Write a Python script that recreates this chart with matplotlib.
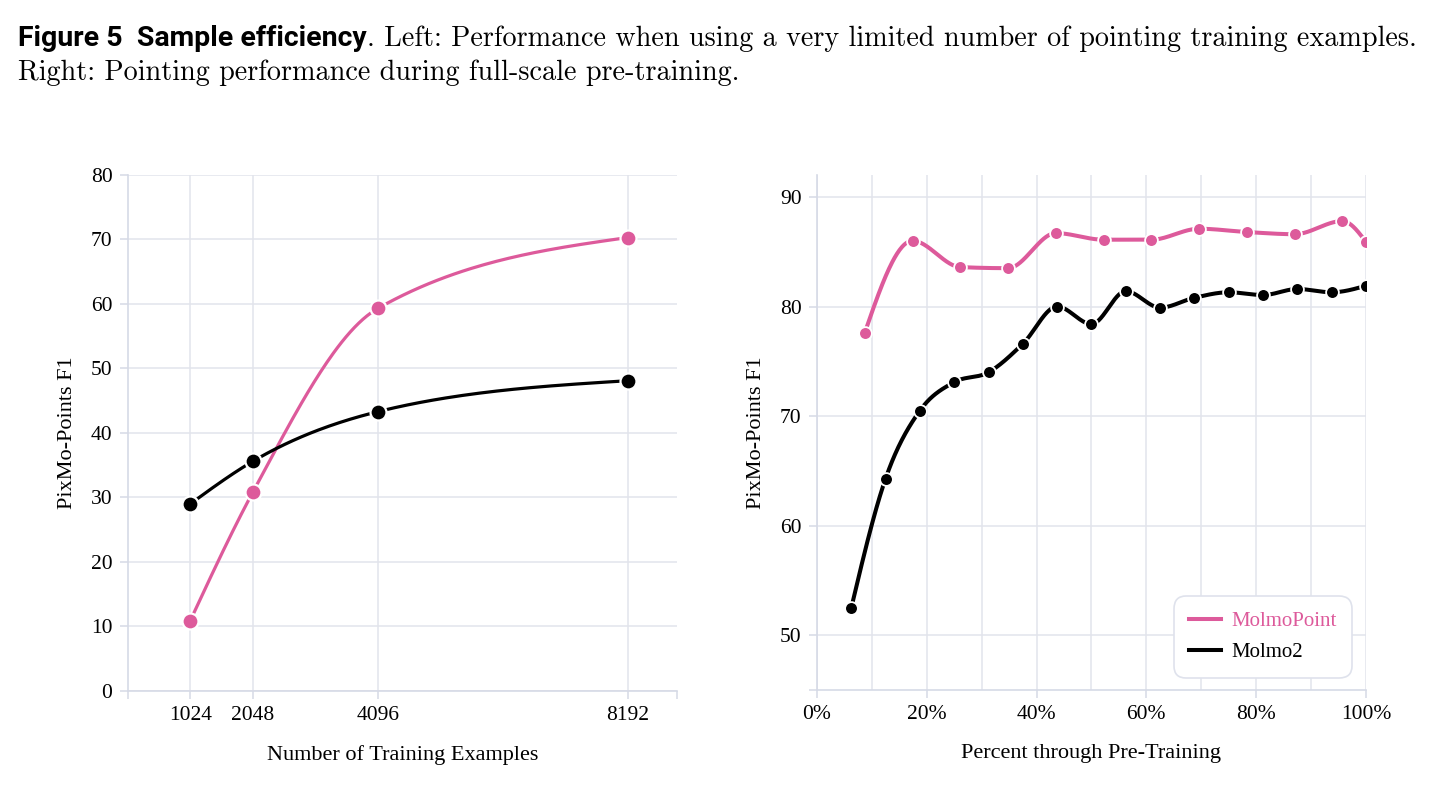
import numpy as np
import matplotlib
matplotlib.use("Agg")
import matplotlib.pyplot as plt

# --- données ---
left_examples = [1024, 2048, 4096, 8192]
left_molmopoint = [10.9, 30.8, 59.3, 70.3]
left_molmo2 = [29.0, 35.6, 43.3, 48.1]

right_point_pct = [8.7, 17.4, 26.1, 34.8, 43.5, 52.2, 60.9, 69.6, 78.3, 87.0, 95.7, 100]
right_point_f1 = [77.6, 86.0, 83.6, 83.5, 86.7, 86.1, 86.1, 87.1, 86.8, 86.6, 87.8, 85.9]

right_molmo2_pct = [6.25, 12.5, 18.75, 25, 31.25, 37.5, 43.75, 50, 56.25, 62.5,
                    68.75, 75, 81.25, 87.5, 93.75, 100]
right_molmo2_f1 = [52.5, 64.3, 70.5, 73.1, 74.0, 76.6, 80.0, 78.4, 81.4, 79.9,
                   80.8, 81.3, 81.05, 81.6, 81.3, 81.9]

left_yticks = [0, 10, 20, 30, 40, 50, 60, 70, 80]
right_yticks = [50, 60, 70, 80, 90]
right_xticks = [0, 20, 40, 60, 80, 100]

PINK = "#DD5A9B"
BLACK = "#000000"
GRID = "#E2E4EC"
SPINE = "#D6DAE6"
SERIF = "Liberation Serif"
TICK_FS = 15.5
LABEL_FS = 16


def monotone_curve(x, y, n=60):
    # courbe "monotone X" (comme d3) passant par les points
    x = np.asarray(x, float)
    y = np.asarray(y, float)
    h = np.diff(x)
    s = np.diff(y) / h
    t = np.zeros(len(x))
    for i in range(1, len(x) - 1):
        p = (s[i - 1] * h[i] + s[i] * h[i - 1]) / (h[i - 1] + h[i])
        sg = (1 if s[i - 1] >= 0 else -1) + (1 if s[i] >= 0 else -1)
        t[i] = sg * min(abs(s[i - 1]), abs(s[i]), 0.5 * abs(p))
    t[0] = (3 * s[0] - t[1]) / 2
    t[-1] = (3 * s[-1] - t[-2]) / 2
    xs, ys = [], []
    for i in range(len(x) - 1):
        u = np.linspace(0, 1, n)
        h00 = 2 * u**3 - 3 * u**2 + 1
        h10 = u**3 - 2 * u**2 + u
        h01 = -2 * u**3 + 3 * u**2
        h11 = u**3 - u**2
        xs.append(x[i] + u * h[i])
        ys.append(h00 * y[i] + h10 * h[i] * t[i] + h01 * y[i + 1] + h11 * h[i] * t[i + 1])
    return np.concatenate(xs), np.concatenate(ys)


def style_axes(ax):
    for side in ["top", "right"]:
        ax.spines[side].set_visible(False)
    for side in ["left", "bottom"]:
        ax.spines[side].set_color(SPINE)
        ax.spines[side].set_linewidth(1.2)
    ax.tick_params(which="both", direction="out", length=6, width=1.1, color=SPINE,
                   labelsize=TICK_FS, pad=5)
    for lab in ax.get_xticklabels() + ax.get_yticklabels():
        lab.set_fontfamily(SERIF)
    ax.set_axisbelow(True)


fig = plt.figure(figsize=(14.47, 7.86), dpi=100)
fig.patch.set_facecolor("white")

# --- graphique de gauche ---
ax1 = fig.add_axes([0.0883, 0.1209, 0.3796, 0.6565])
for xv, yv, col in [(left_examples, left_molmopoint, PINK), (left_examples, left_molmo2, BLACK)]:
    cx, cy = monotone_curve(xv, yv)
    ax1.plot(cx, cy, color=col, lw=2.3, zorder=3, solid_capstyle="round")
    ax1.plot(xv, yv, "o", color=col, ms=11.5, mec="white", mew=1.6, zorder=4)
ax1.set_xlim(0, 9000)
ax1.set_ylim(0, 80)
ax1.set_xticks(left_examples)
ax1.set_xticklabels([str(v) for v in left_examples])
ax1.set_xticks([0, 9000], minor=True)
ax1.set_yticks(left_yticks)
ax1.grid(True, which="major", color=GRID, lw=1.1)
style_axes(ax1)
ax1.set_xlabel("Number of Training Examples", fontfamily=SERIF, fontsize=LABEL_FS, labelpad=14)
ax1.set_ylabel("PixMo-Points F1", fontfamily=SERIF, fontsize=LABEL_FS, labelpad=10)

# --- graphique de droite ---
ax2 = fig.add_axes([0.5646, 0.1221, 0.3794, 0.6552])
l1, = ax2.plot(*monotone_curve(right_point_pct, right_point_f1), color=PINK, lw=2.9,
               zorder=3, label="MolmoPoint")
ax2.plot(right_point_pct, right_point_f1, "o", color=PINK, ms=9.2, mec="white", mew=1.3, zorder=4)
l2, = ax2.plot(*monotone_curve(right_molmo2_pct, right_molmo2_f1), color=BLACK, lw=2.9,
               zorder=3, label="Molmo2")
ax2.plot(right_molmo2_pct, right_molmo2_f1, "o", color=BLACK, ms=9.2, mec="white", mew=1.3, zorder=4)
ax2.set_xlim(0, 100)
ax2.set_ylim(45, 92)
ax2.set_xticks(right_xticks)
ax2.set_xticklabels([f"{v}%" for v in right_xticks])
ax2.set_xticks([10, 30, 50, 70, 90], minor=True)
ax2.set_yticks(right_yticks)
ax2.set_yticks([45], minor=True)
ax2.grid(True, which="both", axis="x", color=GRID, lw=1.1)
ax2.grid(True, which="major", axis="y", color=GRID, lw=1.1)
style_axes(ax2)
ax2.tick_params(axis="x", which="minor", length=0)
ax2.set_xlabel("Percent through Pre-Training", fontfamily=SERIF, fontsize=LABEL_FS, labelpad=14)
ax2.set_ylabel("PixMo-Points F1", fontfamily=SERIF, fontsize=LABEL_FS, labelpad=10)

leg = ax2.legend(handles=[l1, l2], loc="lower right", bbox_to_anchor=(0.9745, 0.0233),
                 borderaxespad=0, prop={"family": SERIF, "size": 15}, labelcolor="linecolor",
                 handlelength=1.5, handletextpad=0.5, borderpad=0.75, labelspacing=0.55,
                 fancybox=True, framealpha=1)
leg.get_frame().set_edgecolor("#DFE2EC")
leg.get_frame().set_linewidth(1.2)
leg.get_frame().set_boxstyle("round,pad=0.0,rounding_size=0.6")

# --- légende de la figure (texte) ---
renderer = fig.canvas.get_renderer()
t1 = fig.text(18 / 1447, 1 - 46 / 786, "Figure 5  Sample efficiency", fontfamily="Roboto",
              fontweight="bold", fontsize=20.5, va="baseline")
bb = t1.get_window_extent(renderer)
fig.text(bb.x1 / 1447, 1 - 46 / 786,
         ". Left: Performance when using a very limited number of pointing training examples.",
         fontfamily="cmr10", fontsize=20.3, va="baseline")
fig.text(18 / 1447, 1 - 80 / 786, "Right: Pointing performance during full-scale pre-training.",
         fontfamily="cmr10", fontsize=20.3, va="baseline")

fig.savefig("out.png", dpi=100)
